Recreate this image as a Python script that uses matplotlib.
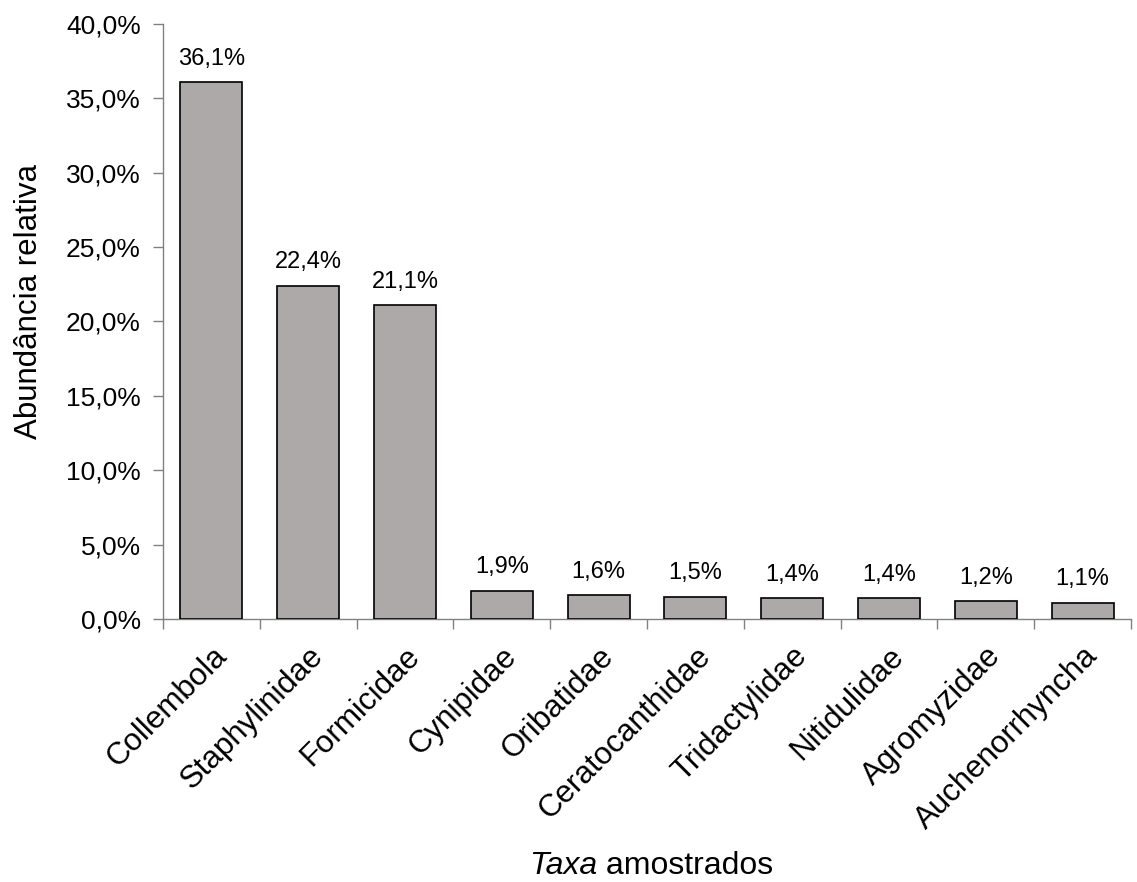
import matplotlib
matplotlib.use("Agg")
import matplotlib.pyplot as plt
from matplotlib.ticker import FuncFormatter, FixedLocator
import numpy as np

categories = ["Collembola", "Staphylinidae", "Formicidae", "Cynipidae", "Oribatidae",
              "Ceratocanthidae", "Tridactylidae", "Nitidulidae", "Agromyzidae", "Auchenorrhyncha"]
values = [36.1, 22.4, 21.1, 1.9, 1.6, 1.5, 1.4, 1.4, 1.2, 1.1]
yticks = [0, 5, 10, 15, 20, 25, 30, 35, 40]

plt.rcParams['font.family'] = ['Liberation Sans', 'DejaVu Sans']

fig = plt.figure(figsize=(11.37, 8.82), dpi=100)
ax = fig.add_axes([0.1434, 0.2982, 0.9947 - 0.1434, 0.9728 - 0.2982])

x = np.arange(len(categories))
ax.bar(x, values, width=0.64, color="#ADA9A9", edgecolor="black", linewidth=1.2, zorder=3)

for xi, v in zip(x, values):
    ax.annotate(f"{v:.1f}%".replace(".", ","), (xi, v), xytext=(0, 9), textcoords="offset points",
                ha="center", va="bottom", fontsize=17)

ax.set_xlim(-0.5, len(categories) - 0.5)
ax.set_ylim(0, 40)
ax.yaxis.set_major_locator(FixedLocator(yticks))
ax.yaxis.set_major_formatter(FuncFormatter(lambda v, p: f"{v:.1f}%".replace(".", ",")))

ax.xaxis.set_major_locator(FixedLocator(list(np.arange(len(categories) + 1) - 0.5)))
ax.xaxis.set_major_formatter(FuncFormatter(lambda v, p: ""))
ax.xaxis.set_minor_locator(FixedLocator(list(x)))
ax.set_xticklabels(categories, minor=True, rotation=45, ha="right", va="top",
                   rotation_mode="anchor", fontsize=22.5)
ax.tick_params(axis="x", which="minor", length=0, pad=16)
ax.tick_params(axis="x", which="major", length=7, width=1, color="#808080", direction="out")
ax.tick_params(axis="y", length=7, width=1, color="#808080", direction="out", labelsize=19, pad=9)

for s in ["top", "right"]:
    ax.spines[s].set_visible(False)
for s in ["left", "bottom"]:
    ax.spines[s].set_color("#808080")
    ax.spines[s].set_linewidth(1)

ax.set_ylabel("Abundância relativa", fontsize=22.5)
ax.yaxis.set_label_coords(-(163 - 43.5) / (1131 - 163), (619 - 302) / 595)

t1 = fig.text(0, 0, "Taxa", fontsize=23, style="italic", va="center")
t2 = fig.text(0, 0, " amostrados", fontsize=23, va="center")
fig.canvas.draw()
r = fig.canvas.get_renderer()
w1 = t1.get_window_extent(r).width
w2 = t2.get_window_extent(r).width
cx = 651
start = cx - (w1 + w2) / 2
ypix = 882 - 866
t1.set_position((start / 1137, ypix / 882))
t2.set_position(((start + w1) / 1137, ypix / 882))

fig.savefig("out.png", dpi=100)
